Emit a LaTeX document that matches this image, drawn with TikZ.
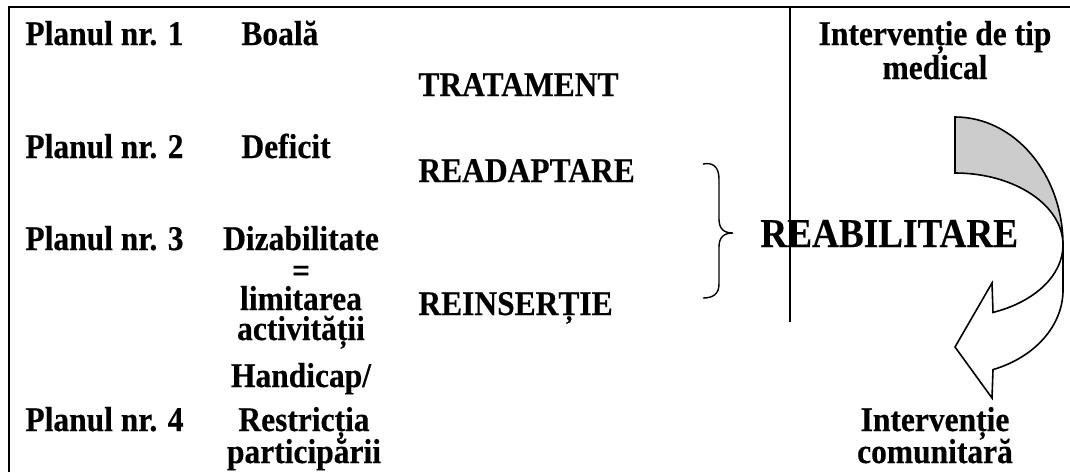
\documentclass[tikz,border=0pt]{standalone}
\usepackage{graphicx}
\usepackage{fontspec}
\setmainfont{Liberation Serif}[BoldFeatures={FakeBold=0.4}]
\usetikzlibrary{positioning}
\definecolor{bandgray}{RGB}{204,204,204}
\newcommand{\tabfont}{\fontsize{15.75}{16}\selectfont\bfseries}
\newcommand{\headfont}{\fontsize{18.6}{20}\selectfont\bfseries}
\newcommand{\tall}[1]{\scalebox{1}[1.1]{#1}}

\begin{document}
\begin{tikzpicture}[x=0.5pt, y=-0.5pt,
  lbl/.style={font=\tabfont, anchor=base west, inner sep=0pt},
  clbl/.style={font=\tabfont, anchor=base, inner sep=0pt}]
  \useasboundingbox (0,0) rectangle (1070,472);
  % table frame
  \draw[line width=1pt] (9,472) -- (9,7) -- (1070,7);
  % planes
  \foreach \k/\yy in {1/45, 2/158, 3/250, 4/431} {
    \node[lbl] (plan\k) at (25,\yy) {\tall{Planul nr. \k}};
  }
  \node[lbl] (boala) at (241,45) {\tall{Boală}};
  \node[lbl] (deficit) at (241,158) {\tall{Deficit}};
  \node[clbl] (diz) at (301,250) {\tall{Dizabilitate}};
  \node[clbl] (egal) at (301,282) {\tall{=}};
  \node[clbl] (limit) at (301,310) {\tall{limitarea}};
  \node[clbl] (activ) at (301,340) {\tall{activității}};
  \node[clbl] (handi) at (301,387) {\tall{Handicap/}};
  \node[clbl] (restr) at (304,431) {\tall{Restricția}};
  \node[clbl] (partic) at (304,463) {\tall{participării}};
  % interventions
  \node[lbl] (trat) at (418,96) {\tall{TRATAMENT}};
  \node[lbl] (readapt) at (418,182) {\tall{READAPTARE}};
  \node[lbl] (reins) at (418,315) {\tall{REINSERȚIE}};
  \draw[line width=0.7pt] (703,164) .. controls (713,162) and (719,167) .. (719,179)
    -- (719,219) .. controls (719,229) and (724,233) .. (733,233)
    .. controls (724,233) and (719,237) .. (719,247)
    -- (719,284) .. controls (719,294) and (713,298) .. (703,298);
  \node[font=\headfont, anchor=base west, inner sep=0pt] (reab) at (760,247) {\tall{REABILITARE}};
  \draw[line width=1pt] (790,7) -- (790,322);
  % right column
  \node[clbl] (med1) at (935,45) {\tall{Intervenție de tip}};
  \node[clbl] (med2) at (935,79) {\tall{medical}};
  \node[clbl] (com1) at (935,431) {\tall{Intervenție}};
  \node[clbl] (com2) at (935,463) {\tall{comunitară}};
  % curved arrow
  \draw[line width=0.8pt, fill=bandgray] (955,117)
    arc[start angle=-90, end angle=0, x radius=108, y radius=128]
    arc[start angle=0, end angle=-90, x radius=108, y radius=72] -- cycle;
  \draw[line width=0.8pt, fill=white] (1063,245)
    arc[start angle=0, end angle=69.4, x radius=108, y radius=72]
    -- (992,283) -- (955,347) -- (992,398) -- (993,369.6)
    arc[start angle=69.4, end angle=0, x radius=108, y radius=85] -- cycle;
\end{tikzpicture}
\end{document}
